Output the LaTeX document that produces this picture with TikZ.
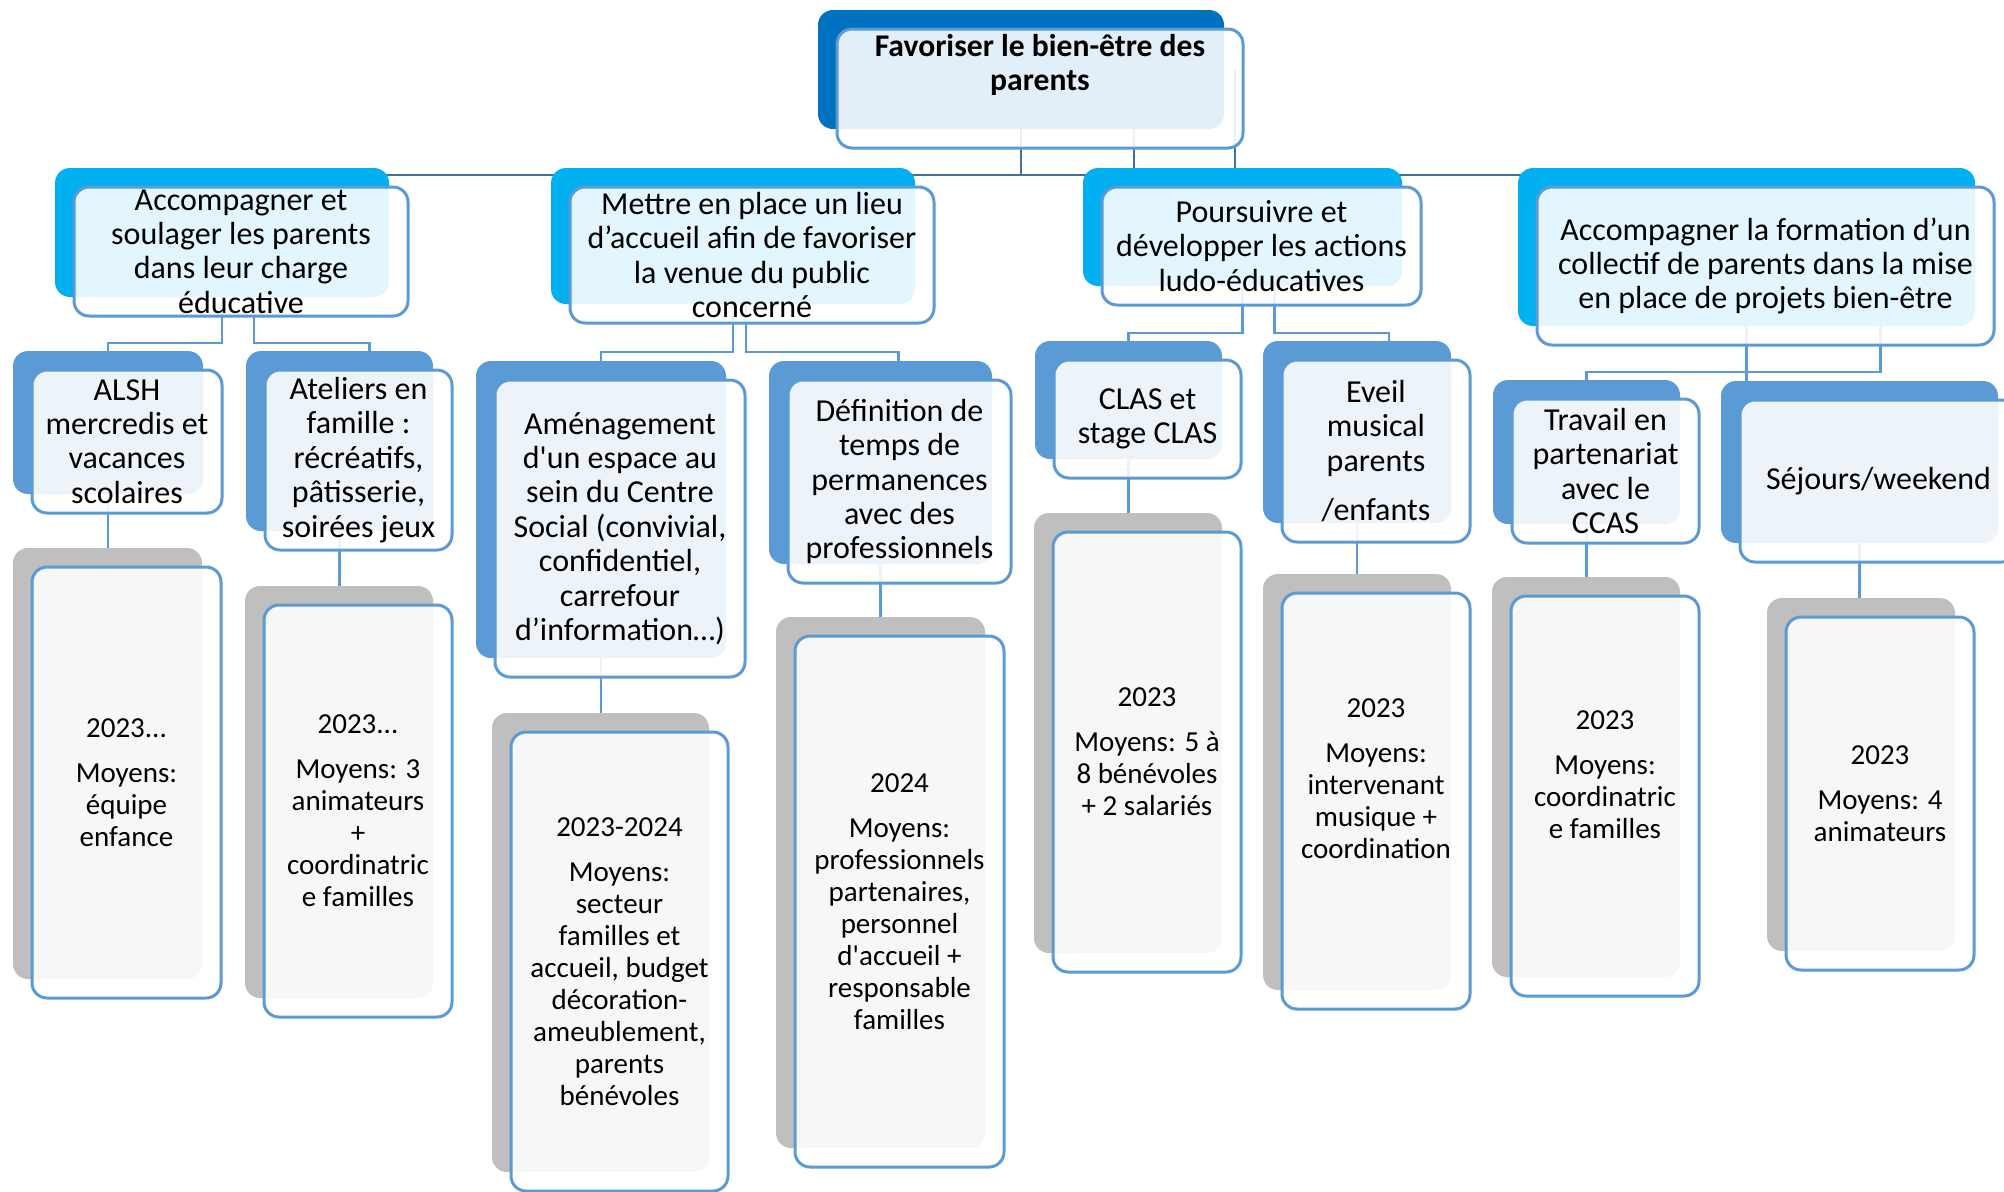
\documentclass[tikz,border=0pt]{standalone}
\usepackage{fontspec}
\setmainfont{Carlito}
\usetikzlibrary{backgrounds}
\definecolor{topblue}{HTML}{0070C0}
\definecolor{goalcyan}{HTML}{00B0F0}
\definecolor{actionblue}{HTML}{5B9BD5}
\definecolor{meansgrey}{HTML}{BFBFBF}
\definecolor{edgeblue}{HTML}{5B9BD5}
\definecolor{linkblue}{HTML}{41719C}

\begin{document}
\begin{tikzpicture}[x=0.5pt, y=-0.5pt,
 back/.style={fill=#1, rounded corners=7.5pt, inner sep=0pt, outer sep=0pt},
 front/.style={draw=edgeblue, line width=1.5pt, fill=white, fill opacity=0.89, text opacity=1,
  rounded corners=7.5pt, inner sep=0pt, outer sep=0pt},
 wh/.style 2 args={minimum width=#1, minimum height=#2},
 head/.style={align=center, font=\bfseries\fontsize{15.8}{17}\selectfont},
 goal/.style={align=center, font=\fontsize{16}{17.2}\selectfont},
 means/.style={align=center, font=\fontsize{14.5}{16}\selectfont},
 link/.style={draw=linkblue, line width=1.4pt},
 conn/.style={draw=edgeblue, line width=1.4pt}]
 \path[use as bounding box] (0,0) rectangle (2004,1191);

 % objectif general
 \node[back=topblue, wh={203pt}{59.5pt}] (topb) at (1021,69.5) {};
 \node[front, wh={203pt}{59.5pt}, label={[head, name=topt, yshift=11.75pt]center:{Favoriser le bien-être des\\parents}}] (top) at ([shift={(19,19)}]topb) {};

 % objectifs
 \node[back=goalcyan, wh={167pt}{64.5pt}] (a1b) at (222,232.5) {};
 \node[front, wh={167pt}{64.5pt}, label={[goal, name=a1t]center:{Accompagner et\\soulager les parents\\dans leur charge\\éducative}}] (a1) at ([shift={(19,19)}]a1b) {};
 \node[back=goalcyan, wh={182pt}{68pt}] (a2b) at (733,236) {};
 \node[front, wh={182pt}{68pt}, label={[goal, name=a2t]center:{Mettre en place un lieu\\d’accueil afin de favoriser\\la venue du public\\concerné}}] (a2) at ([shift={(19,19)}]a2b) {};
 \node[back=goalcyan, wh={159.5pt}{59pt}] (a3b) at (1242.5,227) {};
 \node[front, wh={159.5pt}{59pt}, label={[goal, name=a3t]center:{Poursuivre et\\développer les actions\\ludo-éducatives}}] (a3) at ([shift={(19,19)}]a3b) {};
 \node[back=goalcyan, wh={228.5pt}{79pt}] (a4b) at (1746.5,247) {};
 \node[front, wh={228.5pt}{79pt}, label={[goal, name=a4t]center:{Accompagner la formation d’un\\collectif de parents dans la mise\\en place de projets bien-être}}] (a4) at ([shift={(19,19)}]a4b) {};

 % actions
 \node[back=actionblue, wh={95pt}{71.5pt}] (b1b) at (108,422.5) {};
 \node[front, wh={95pt}{71.5pt}, label={[goal, name=b1t]center:{ALSH\\mercredis et\\vacances\\scolaires}}] (b1) at ([shift={(19,19)}]b1b) {};
 \node[back=actionblue, wh={93.5pt}{90pt}] (b2b) at (339.5,441) {};
 \node[front, wh={93.5pt}{90pt}, label={[goal, name=b2t]center:{Ateliers en\\famille :\\récréatifs,\\pâtisserie,\\soirées jeux}}] (b2) at ([shift={(19,19)}]b2b) {};
 \node[back=actionblue, wh={125pt}{148.5pt}] (b3b) at (601,509.5) {};
 \node[front, wh={125pt}{148.5pt}, label={[goal, name=b3t]center:{Aménagement\\d\textquotesingle un espace au\\sein du Centre\\Social (convivial,\\confidentiel,\\carrefour\\d’information…)}}] (b3) at ([shift={(19,19)}]b3b) {};
 \node[back=actionblue, wh={111.5pt}{101.5pt}] (b4b) at (880.5,462.5) {};
 \node[front, wh={111.5pt}{101.5pt}, label={[goal, name=b4t]center:{Définition de\\temps de\\permanences\\avec des\\professionnels}}] (b4) at ([shift={(19,19)}]b4b) {};
 \node[back=actionblue, wh={93.5pt}{59pt}] (b5b) at (1128.5,400) {};
 \node[front, wh={93.5pt}{59pt}, label={[goal, name=b5t]center:{CLAS et\\stage CLAS}}] (b5) at ([shift={(19,19)}]b5b) {};
 \node[back=actionblue, wh={94pt}{91pt}] (b6b) at (1357,432) {};
 \node[front, wh={94pt}{91pt}, label={[goal, name=b6t]center:{Eveil\\musical\\parents\\[7.5pt]/enfants}}] (b6) at ([shift={(19,19)}]b6b) {};
 \node[back=actionblue, wh={93.5pt}{72pt}] (b7b) at (1586.5,452) {};
 \node[front, wh={93.5pt}{72pt}, label={[goal, name=b7t]center:{Travail en\\partenariat\\avec le\\CCAS}}] (b7) at ([shift={(19,19)}]b7b) {};
 \node[back=actionblue, wh={138.5pt}{81pt}] (b8b) at (1859.5,462) {};
 \node[front, wh={138.5pt}{81pt}, label={[goal, name=b8t]center:{Séjours/weekend}}] (b8) at ([shift={(19,19)}]b8b) {};

 % calendrier et moyens
 \node[back=meansgrey, wh={94.5pt}{215.5pt}] (c1b) at (107.5,763.5) {};
 \node[front, wh={94.5pt}{215.5pt}, label={[means, name=c1t]center:{2023...\\[6.5pt]Moyens:\\équipe\\enfance}}] (c1) at ([shift={(19,19)}]c1b) {};
 \node[back=meansgrey, wh={94pt}{206pt}] (c2b) at (339,792) {};
 \node[front, wh={94pt}{206pt}, label={[means, name=c2t]center:{2023...\\[6.5pt]Moyens: 3\\animateurs\\+\\coordinatric\\e familles}}] (c2) at ([shift={(19,19)}]c2b) {};
 \node[back=meansgrey, wh={108.5pt}{229.5pt}] (c3b) at (600.5,942.5) {};
 \node[front, wh={108.5pt}{229.5pt}, label={[means, name=c3t]center:{2023-2024\\[6.5pt]Moyens:\\secteur\\familles et\\accueil, budget\\décoration-\\ameublement,\\parents\\bénévoles}}] (c3) at ([shift={(19,19)}]c3b) {};
 \node[back=meansgrey, wh={104.5pt}{265.5pt}] (c4b) at (880.5,882.5) {};
 \node[front, wh={104.5pt}{265.5pt}, label={[means, name=c4t]center:{2024\\[6.5pt]Moyens:\\professionnels\\partenaires,\\personnel\\d\textquotesingle accueil +\\responsable\\familles}}] (c4) at ([shift={(19,19)}]c4b) {};
 \node[back=meansgrey, wh={94pt}{220pt}] (c5b) at (1128,733) {};
 \node[front, wh={94pt}{220pt}, label={[means, name=c5t]center:{2023\\[6.5pt]Moyens: 5 à\\8 bénévoles\\+ 2 salariés}}] (c5) at ([shift={(19,19)}]c5b) {};
 \node[back=meansgrey, wh={94pt}{208pt}] (c6b) at (1357,782) {};
 \node[front, wh={94pt}{208pt}, label={[means, name=c6t, yshift=11pt]center:{2023\\[6.5pt]Moyens:\\intervenant\\musique +\\coordination}}] (c6) at ([shift={(19,19)}]c6b) {};
 \node[back=meansgrey, wh={94pt}{200pt}] (c7b) at (1586,777) {};
 \node[front, wh={94pt}{200pt}, label={[means, name=c7t, yshift=10.5pt]center:{2023\\[6.5pt]Moyens:\\coordinatric\\e familles}}] (c7) at ([shift={(19,19)}]c7b) {};
 \node[back=meansgrey, wh={94pt}{176.5pt}] (c8b) at (1861,774.5) {};
 \node[front, wh={94pt}{176.5pt}, label={[means, name=c8t]center:{2023\\[6.5pt]Moyens: 4\\animateurs}}] (c8) at ([shift={(19,19)}]c8b) {};

 \coordinate (busA) at (0,175);
 \coordinate (busB1) at (0,343);
 \coordinate (busB2) at (0,352);
 \coordinate (busB3) at (0,333);
 \coordinate (busB4) at (0,372);

 \begin{scope}[on background layer]
  \fill[white] (0,0) rectangle (2004,1191);
  % liens niveau 1
  \draw[link] (topb) |- (a1b |- busA) -- (a1b);
  \draw[link] (topb) |- (a2b |- busA) -- (a2b);
  \draw[link] (topb) |- (a3b |- busA) -- (a3b);
  \draw[link] ([xshift=56.5pt]topb.center) |- (a3b);
  \draw[link] ([xshift=107pt]topb.center) |- (a4b |- busA) -- (a4b);
  % liens niveau 2
  \draw[conn] (a1b) |- (b1b |- busB1) -- (b1b);
  \draw[conn] ([xshift=16pt]a1b.center) |- ([xshift=15pt]b2b |- busB1) -- ([xshift=15pt]b2b.center);
  \draw[conn] (a2b) |- (b3b |- busB2) -- (b3b);
  \draw[conn] ([xshift=6.5pt]a2b.center) |- ([xshift=9pt]b4b |- busB2) -- ([xshift=9pt]b4b.center);
  \draw[conn] (a3b) |- (b5b |- busB3) -- (b5b);
  \draw[conn] ([xshift=16pt]a3b.center) |- ([xshift=16pt]b6b |- busB3) -- ([xshift=16pt]b6b.center);
  \draw[conn] ([xshift=67pt]a4b.center) |- (b7b |- busB4) -- (b7b);
  \draw[conn] (a4b) -- (a4b |- b8b);
  % liens niveau 3
  \draw[conn] (b1b) -- (b1b |- c1b);
  \draw[conn] (b2b) -- (b2b |- c2b);
  \draw[conn] (b3b) -- (b3b |- c3b);
  \draw[conn] (b4b) -- (b4b |- c4b);
  \draw[conn] (b5b) -- (b5b |- c5b);
  \draw[conn] (b6b) -- (b6b |- c6b);
  \draw[conn] (b7b) -- (b7b |- c7b);
  \draw[conn] (b8b) -- (b8b |- c8b);
 \end{scope}
\end{tikzpicture}
\end{document}
